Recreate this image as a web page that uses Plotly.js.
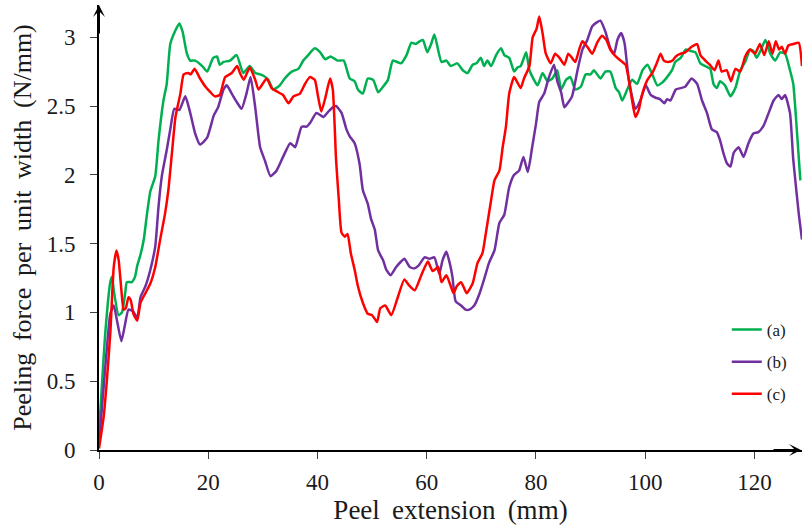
<!DOCTYPE html>
<html>
<head>
<meta charset="utf-8">
<script src="https://cdn.plot.ly/plotly-3.0.1.min.js"></script>
<style>html,body{margin:0;padding:0;background:#fff;}#chart{width:802px;height:528px;}</style>
</head>
<body>
<div id="chart"></div>
<script>
// Peel extension (mm) and peeling force per unit width (N/mm)
var aX = [0,1.15,2.07,2.4,2.7,3.6,4.2,4.8,5.1,6.0,6.6,7.0,7.6,8.2,8.8,9.4,10.3,10.9,11.8,12.4,13.05,14.0,14.7,15.3,16.1,16.7,17.6,18.9,19.8,20.9,21.6,22.1,22.8,24.0,25.2,26.4,27.6,28.6,29.5,30.1,31.0,31.9,33.1,34.0,35.3,36.5,37.4,38.3,39.5,40.5,41.4,42.4,43.7,44.8,45.9,46.8,47.4,48.3,49.2,50.2,51.1,52.0,52.9,53.8,55.3,56.3,57.2,58.0,58.7,59.3,60.1,60.8,61.4,62.7,63.6,64.4,65.6,66.6,67.5,68.4,69.1,69.9,70.5,71.1,71.8,72.7,73.6,74.2,75.1,76.0,76.6,77.2,78.2,78.8,80.3,81.2,82.1,83.0,83.9,84.6,85.5,86.3,87.2,88.2,89.1,90.0,90.6,91.8,92.7,93.6,94.6,95.2,95.8,96.7,97.6,98.5,99.5,100.4,101.3,102.2,103.1,104.0,104.9,105.5,106.5,107.4,108.3,109.2,110.1,111.0,111.9,112.5,113.1,113.7,114.6,115.6,116.5,117.4,118.3,119.2,119.8,120.4,121.2,122.0,122.9,123.8,124.7,125.6,126.5,127.1,127.8,128.4];
var aY = [0.12,0.85,1.22,1.26,1.16,0.98,1.0,1.14,1.22,1.22,1.26,1.34,1.42,1.53,1.72,1.88,1.99,2.25,2.54,2.66,2.95,3.05,3.1,3.04,2.88,2.83,2.83,2.79,2.75,2.85,2.86,2.8,2.82,2.83,2.87,2.74,2.79,2.74,2.73,2.72,2.69,2.62,2.65,2.7,2.75,2.77,2.83,2.87,2.92,2.89,2.84,2.86,2.83,2.83,2.7,2.68,2.62,2.59,2.7,2.69,2.6,2.64,2.69,2.83,2.81,2.87,2.96,2.95,2.97,2.98,2.89,2.95,3.02,2.82,2.83,2.79,2.81,2.76,2.74,2.8,2.81,2.85,2.79,2.83,2.79,2.87,2.92,2.87,2.85,2.75,2.78,2.79,2.89,2.76,2.65,2.74,2.68,2.7,2.76,2.62,2.69,2.71,2.62,2.64,2.73,2.73,2.76,2.7,2.75,2.75,2.63,2.6,2.54,2.62,2.69,2.66,2.76,2.8,2.73,2.65,2.67,2.71,2.76,2.82,2.85,2.91,2.9,2.89,2.81,2.79,2.77,2.66,2.63,2.68,2.65,2.57,2.63,2.76,2.82,2.91,2.9,2.85,2.91,2.98,2.88,2.83,2.89,2.88,2.76,2.66,2.3,1.96];

var bX = [0,1.15,2.07,2.7,3.3,4.1,4.7,5.4,6.2,7.0,7.6,8.5,9.4,10.3,10.9,11.5,12.4,13.05,13.8,14.7,15.8,16.7,17.6,18.5,19.8,21.0,21.8,22.8,23.4,24.3,25.2,26.1,27.0,27.75,28.6,29.5,30.4,31.4,32.5,33.7,35.0,35.9,37.1,38.0,38.7,39.8,41.1,42.0,42.8,43.4,44.4,45.3,45.9,46.8,47.7,48.3,49.2,49.8,50.5,51.1,52.0,52.6,53.4,54.4,55.3,55.9,56.9,57.7,58.5,59.6,60.5,61.4,62.3,62.9,63.6,64.2,64.7,65.3,66.3,67.1,67.8,68.7,69.6,70.5,71.4,72.4,73.3,74.2,75.1,76.0,76.9,77.7,78.5,79.3,80.0,80.6,81.5,82.3,83.3,83.9,84.6,85.2,85.8,86.6,87.6,88.5,89.4,90.3,91.2,91.8,92.7,93.6,94.3,94.9,95.6,96.2,97.0,98.2,99.1,100.1,101.0,101.9,102.7,103.5,104.0,104.6,105.6,106.5,107.3,108.5,109.5,110.4,111.3,112.2,113.1,113.7,114.3,115.0,115.6,116.2,117.1,118.0,118.9,119.8,120.7,121.7,122.6,123.5,124.4,125.0,125.6,126.5,127.1,128.1,128.7];
var bY = [0.05,0.6,0.99,1.05,0.94,0.79,0.9,1.02,1.01,0.96,1.11,1.19,1.31,1.48,1.77,1.99,2.18,2.33,2.48,2.47,2.57,2.45,2.3,2.22,2.27,2.43,2.49,2.62,2.65,2.59,2.53,2.48,2.59,2.71,2.49,2.2,2.1,1.99,2.03,2.13,2.23,2.2,2.35,2.35,2.38,2.45,2.42,2.46,2.49,2.5,2.45,2.33,2.28,2.23,2.08,1.89,1.79,1.68,1.6,1.45,1.38,1.31,1.27,1.33,1.37,1.39,1.33,1.32,1.34,1.4,1.39,1.4,1.28,1.38,1.44,1.36,1.26,1.08,1.05,1.02,1.02,1.05,1.13,1.24,1.36,1.45,1.65,1.71,1.91,2.0,2.03,2.13,2.02,2.2,2.37,2.53,2.59,2.7,2.8,2.68,2.6,2.49,2.52,2.57,2.76,2.91,2.98,3.08,3.11,3.12,3.04,2.92,2.88,2.98,3.03,2.96,2.69,2.48,2.54,2.65,2.58,2.56,2.55,2.52,2.55,2.54,2.62,2.63,2.64,2.7,2.66,2.54,2.45,2.33,2.31,2.25,2.16,2.08,2.06,2.16,2.2,2.13,2.23,2.3,2.31,2.36,2.45,2.54,2.58,2.55,2.58,2.45,2.11,1.72,1.53];

var cX = [0,0.85,1.45,2.07,2.7,3.2,3.6,4.1,4.5,4.9,5.4,5.8,6.3,7.0,7.6,8.5,9.4,10.3,11.2,12.1,12.7,13.4,14.0,14.9,15.5,16.3,16.8,17.5,18.5,19.5,20.4,21.2,22.1,23.1,24.3,25.3,25.8,26.5,27.6,28.6,29.2,30.7,31.6,32.8,33.7,34.7,35.6,36.8,37.7,38.6,39.5,40.1,40.7,41.5,42.3,42.8,43.4,43.9,44.4,45.0,45.5,46.1,46.8,47.4,48.3,49.2,50.0,50.9,51.5,52.4,53.5,54.7,55.9,56.7,57.8,59.0,60.2,61.1,62.1,62.7,63.6,64.4,64.9,65.5,66.3,67.3,68.4,69.3,70.2,70.8,71.8,72.4,73.3,73.9,74.5,75.1,76.0,77.2,77.8,78.8,79.4,80.1,80.6,81.2,81.8,82.7,83.5,84.3,85.2,85.9,86.4,87.2,87.9,88.5,89.4,90.3,91.2,92.1,92.9,93.6,94.6,95.5,96.4,97.0,97.6,98.2,98.8,99.4,100.4,101.3,102.2,102.8,103.4,104.2,105.0,105.6,106.5,107.3,108.5,109.5,110.1,111.0,111.8,112.7,113.4,114.0,114.9,115.7,116.5,117.4,118.3,119.2,120.1,121.0,121.8,122.6,123.3,123.9,124.5,125.0,125.6,126.2,127.1,128.1,128.7];
var cY = [0.01,0.24,0.51,0.85,1.33,1.45,1.38,1.16,1.02,1.03,1.11,1.09,0.99,0.94,1.07,1.14,1.21,1.33,1.53,1.72,1.89,2.18,2.42,2.59,2.73,2.74,2.73,2.77,2.7,2.64,2.6,2.57,2.58,2.71,2.74,2.79,2.74,2.69,2.78,2.69,2.62,2.7,2.63,2.6,2.58,2.52,2.57,2.59,2.66,2.71,2.69,2.57,2.46,2.57,2.7,2.62,2.11,1.82,1.58,1.55,1.57,1.43,1.31,1.19,1.07,0.99,0.98,0.93,1.03,1.05,0.98,1.11,1.24,1.2,1.16,1.27,1.37,1.3,1.33,1.22,1.27,1.19,1.14,1.19,1.22,1.14,1.21,1.36,1.43,1.57,1.82,1.96,2.03,2.2,2.35,2.59,2.71,2.63,2.7,2.79,3.0,3.06,3.15,3.03,2.88,2.81,2.88,2.85,2.8,2.88,2.86,2.82,2.91,2.97,2.93,2.88,2.96,3.01,2.98,2.91,2.86,2.83,2.8,2.69,2.54,2.42,2.47,2.58,2.69,2.74,2.82,2.88,2.83,2.82,2.83,2.86,2.88,2.89,2.93,2.95,2.87,2.83,2.8,2.76,2.83,2.75,2.76,2.68,2.77,2.75,2.86,2.91,2.88,2.95,2.87,2.97,2.88,2.97,2.91,2.93,2.88,2.94,2.95,2.96,2.79];

var seriesNames = ['(a)', '(b)', '(c)'];
var seriesColors = ['#00B050', '#7030A0', '#FF0000'];
var xTicks = [0, 20, 40, 60, 80, 100, 120];
var yTicks = [0, 0.5, 1, 1.5, 2, 2.5, 3];
var xTitle = 'Peel extension (mm)';
var yTitle = 'Peeling force per unit width (N/mm)';

var FONT = '"Liberation Serif", "Times New Roman", Times, serif';
function widen(s) { return s.split(' ').join(' \u2009'); }
var xs = [aX, bX, cX], ys = [aY, bY, cY];
var traces = xs.map(function (x, i) {
  return {
    x: x, y: ys[i], type: 'scatter', mode: 'lines', name: seriesNames[i],
    legendgroup: 'g' + i,
    line: {color: seriesColors[i], width: 2.5, shape: 'spline', smoothing: 0.5}
  };
});

var layout = {
  width: 802, height: 528,
  margin: {l: 99, r: 0, t: 5, b: 78},
  paper_bgcolor: '#ffffff', plot_bgcolor: '#ffffff',
  font: {family: FONT, color: '#1a1a1a'},
  showlegend: true,
  legend: {
    x: 0.893, y: 0.31, xanchor: 'left', yanchor: 'top',
    font: {family: FONT, size: 17, color: '#1a1a1a'},
    bgcolor: 'rgba(0,0,0,0)', tracegroupgap: 7, traceorder: 'grouped'
  },
  xaxis: {
    range: [0, 128.7], tickvals: xTicks, ticktext: xTicks.map(String),
    showgrid: false, zeroline: false, showline: true, linecolor: '#000', linewidth: 2,
    ticks: 'outside', ticklen: 7, tickwidth: 1, tickcolor: '#404040',
    tickfont: {family: FONT, size: 23, color: '#1a1a1a'}, ticklabelstandoff: 3,
    title: {text: widen(xTitle), font: {family: FONT, size: 27, color: '#1a1a1a'}, standoff: 6}
  },
  yaxis: {
    range: [0, 3.234], tickvals: yTicks, ticktext: yTicks.map(String),
    showgrid: false, zeroline: false, showline: true, linecolor: '#000', linewidth: 2,
    ticks: 'outside', ticklen: 7, tickwidth: 1, tickcolor: '#404040',
    tickfont: {family: FONT, size: 23, color: '#1a1a1a'}, ticklabelstandoff: 10,
    title: {text: widen(yTitle), font: {family: FONT, size: 26, color: '#1a1a1a'}, standoff: 8}
  },
  annotations: [
    {xref: 'paper', yref: 'paper', x: 1, y: 0, ax: -30, ay: 0, text: '', showarrow: true,
     arrowhead: 3, arrowsize: 1, arrowwidth: 2, arrowcolor: '#000'},
    {xref: 'paper', yref: 'paper', x: 0, y: 1, ax: 0, ay: 30, text: '', showarrow: true,
     arrowhead: 3, arrowsize: 1, arrowwidth: 2, arrowcolor: '#000'}
  ]
};

Plotly.newPlot('chart', traces, layout, {displayModeBar: false, staticPlot: true});
</script>
</body>
</html>
